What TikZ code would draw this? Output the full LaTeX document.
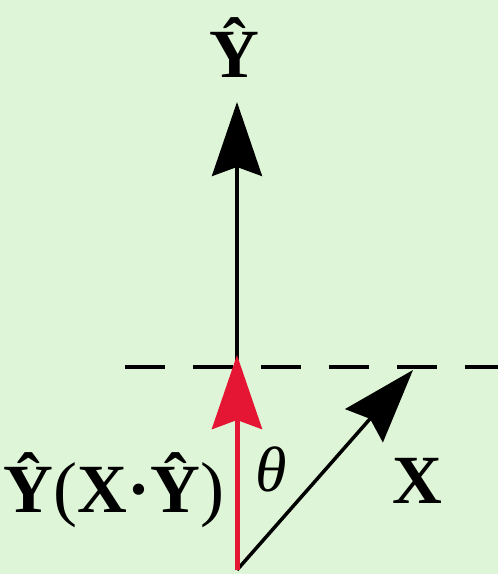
\documentclass[tikz,border=0pt]{standalone}
\usepackage{fontspec}
\setmainfont{Liberation Serif}
\usetikzlibrary{arrows.meta}
\definecolor{bg}{RGB}{223,245,215}
\definecolor{vred}{RGB}{228,22,52}
\tikzset{
  vec/.style={line width=3.5pt,-{Stealth[length=74pt,width=50pt,inset=9pt]}},
  redvec/.style={vec,line width=5pt,color=vred},
  guide/.style={line width=4pt,dash pattern=on 40pt off 28pt},
  lbl/.style={font=\fontsize{69}{69}\selectfont\bfseries,inner sep=0pt,anchor=base},
  anglelbl/.style={font=\fontsize{64}{64}\selectfont\itshape,inner sep=0pt,anchor=base}
}
\begin{document}
\begin{tikzpicture}[x=1pt,y=-1pt]
\fill[bg] (0,0) rectangle (498,574);
\useasboundingbox (0,0) rectangle (498,574);
\coordinate (O) at (237,570);
\coordinate (Ytip) at (237,102);
\coordinate (Rtip) at (237,355);
\coordinate (Xtip) at (413,370);
\coordinate (L) at (125,367);
\coordinate (R) at (498,367);
\draw[guide] (L) -- (R);
\draw[vec] (O) -- (Ytip);
\draw[vec] (O) -- (Xtip);
\draw[redvec] (O) -- (Rtip);
\node[lbl] (ylab) at (234,77) {Ŷ};
\node[lbl] (proj) at (114,512) {Ŷ{\mdseries\fontsize{72}{72}\selectfont (}X·Ŷ{\mdseries\fontsize{72}{72}\selectfont )}};
\node[anglelbl] (theta) at (271,491) {θ};
\node[lbl] (xlab) at (417,503) {X};
\end{tikzpicture}
\end{document}
